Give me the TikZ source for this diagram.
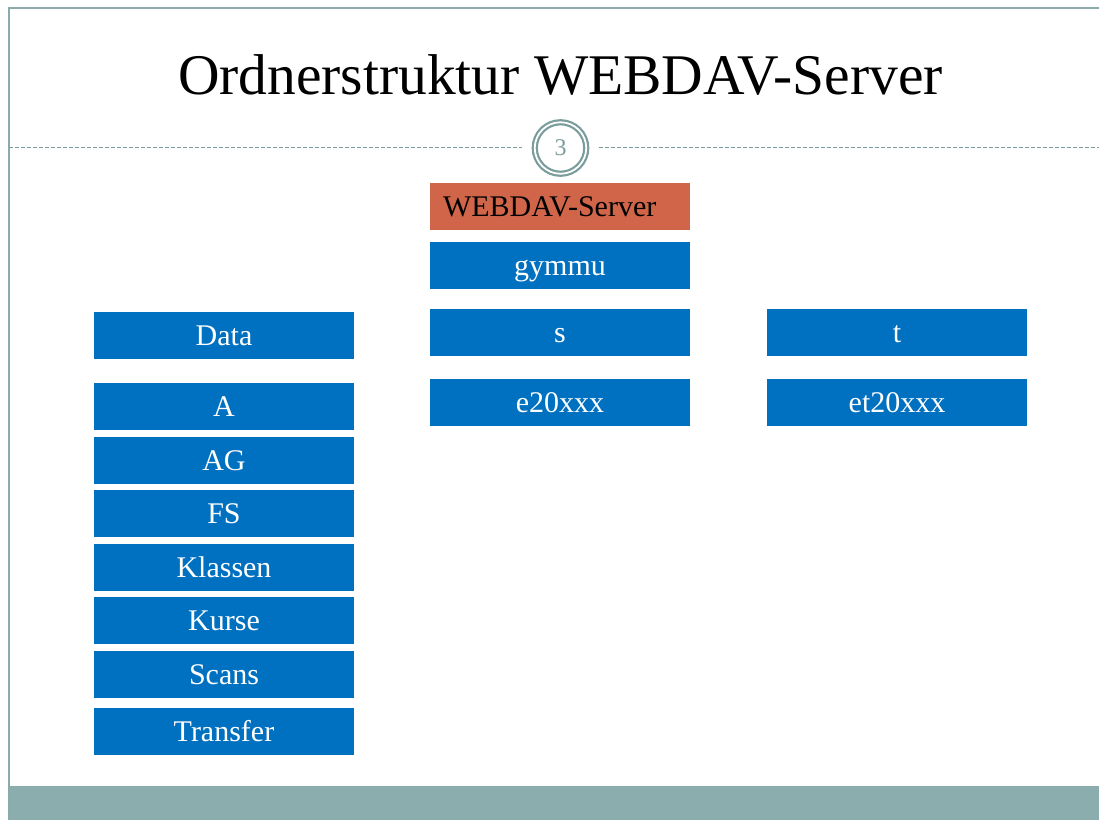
\documentclass[tikz,border=0pt]{standalone}
\usepackage{fontspec}
\setmainfont{Liberation Serif}
\definecolor{frameC}{RGB}{139,171,171}
\definecolor{barC}{RGB}{139,173,173}
\definecolor{ringC}{RGB}{122,156,156}
\definecolor{blueC}{RGB}{0,112,192}
\definecolor{redC}{RGB}{208,101,74}
\tikzset{
  folder/.style={rectangle, fill=blueC, minimum width=260pt, minimum height=46.7pt,
    inner sep=0pt, outer sep=0pt, text=white, font=\fontsize{30}{36}\selectfont,
    text height=19.8pt, text depth=0pt, anchor=north west},
  rootbox/.style={folder, fill=redC, text=black, text width=234pt, inner xsep=13pt, align=left},
  sepline/.style={ringC, line width=1pt, dash pattern=on 4pt off 2pt},
}
\begin{document}
\begin{tikzpicture}[x=1pt,y=-1pt]
\useasboundingbox[fill=white] (0,0) rectangle (1099,820);
% frame
\fill[barC] (9,786) rectangle (1099,820);
\draw[frameC, line width=2pt] (8.5,820) -- (8.5,8.3) -- (1099,8.3);
% title
\node[anchor=base, font=\fontsize{57.5}{60}\selectfont] (title) at (560.5,94) {Ordnerstruktur WEBDAV-Server};
% page number circle
\node[circle, draw=ringC, line width=2.2pt, double=white, double distance=1.8pt,
      fill=white, minimum size=51.5pt, inner sep=0pt, outer sep=0pt,
      text=ringC, font=\fontsize{24}{24}\selectfont] (pg) at (560.5,148) {3};
\coordinate (sl) at (9,147.5);
\coordinate (sr) at (1099,147.5);
\draw[sepline] (sl) -- ([xshift=-12.5pt]pg.west |- sl);
\draw[sepline] ([xshift=12.5pt]pg.east |- sr) -- (sr);
% middle column
\node[rootbox] (root) at (430,183) {WEBDAV-Server};
\node[folder] (gymmu) at (430,242) {gymmu};
\node[folder] (s) at (430,309) {s};
\node[folder] (e) at (430,379) {e20xxx};
% right column
\node[folder] (t) at (767,309) {t};
\node[folder] (et) at (767,379) {et20xxx};
% left column
\node[folder] (data) at (94,312) {Data};
\node[folder] (a) at (94,383) {A};
\node[folder] (ag) at (94,437) {AG};
\node[folder] (fs) at (94,490) {FS};
\node[folder] (kl) at (94,544) {Klassen};
\node[folder] (ku) at (94,597) {Kurse};
\node[folder] (sc) at (94,651) {Scans};
\node[folder] (tr) at (94,708) {Transfer};
\end{tikzpicture}
\end{document}
